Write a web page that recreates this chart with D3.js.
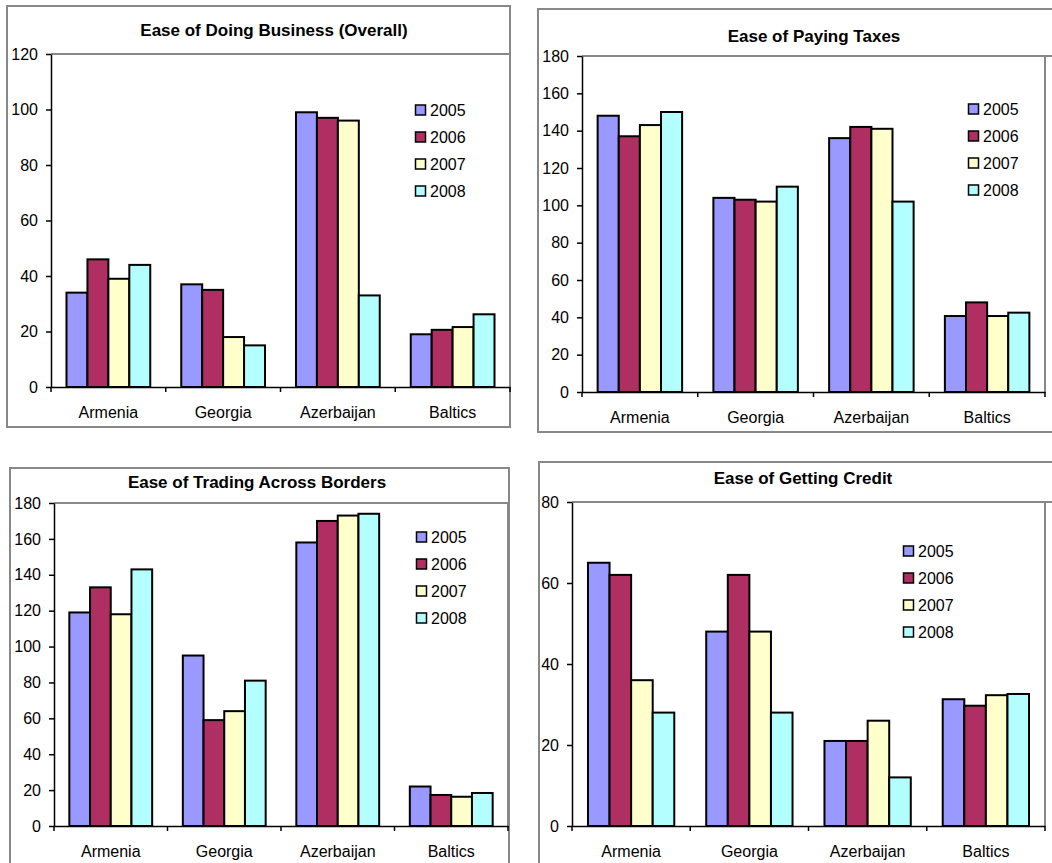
<!DOCTYPE html>
<html>
<head>
<meta charset="utf-8">
<script src="https://cdn.jsdelivr.net/npm/d3@7"></script>
<style>
  html, body { margin: 0; padding: 0; background: #fff; }
  svg { display: block; }
  text { font-family: Arial, "Liberation Sans", sans-serif; fill: #000; }
</style>
</head>
<body>
<svg id="chart" width="1052" height="863"></svg>
<script>
// ---- Data ----
const categories = ["Armenia", "Georgia", "Azerbaijan", "Baltics"];
const years = ["2005", "2006", "2007", "2008"];
const yearColors = ["#9999FF", "#AF2F63", "#FFFFCC", "#B3FFFF"];

const titles = [
  "Ease of Doing Business (Overall)",
  "Ease of Paying Taxes",
  "Ease of Trading Across Borders",
  "Ease of Getting Credit"
];

// values[category][year]
const doingBusiness = [
  [34, 46, 39, 44],
  [37, 35, 18, 15],
  [99, 97, 96, 33],
  [19, 20.6, 21.6, 26.2]
];
const payingTaxes = [
  [148, 137, 143, 150],
  [104, 103, 102, 110],
  [136, 142, 141, 102],
  [40.7, 48, 40.7, 42.5]
];
const tradingBorders = [
  [119, 133, 118, 143],
  [95, 59, 64, 81],
  [158, 170, 173, 174],
  [22, 17.3, 16.3, 18.4]
];
const gettingCredit = [
  [65, 62, 36, 28],
  [48, 62, 48, 28],
  [21, 21, 26, 12],
  [31.3, 29.7, 32.3, 32.6]
];

const yMaxes = [120, 180, 180, 80];
const yTickValues = [
  [0, 20, 40, 60, 80, 100, 120],
  [0, 20, 40, 60, 80, 100, 120, 140, 160, 180],
  [0, 20, 40, 60, 80, 100, 120, 140, 160, 180],
  [0, 20, 40, 60, 80]
];
const panelData = [doingBusiness, payingTaxes, tradingBorders, gettingCredit];

// ---- Layout (positions only) ----
const layouts = [
  { box: [7, 6, 510, 427],   plot: [51, 54, 510, 387],  plotLineRight: 510,  title: [274, 30],  legend: [415, 110] },
  { box: [538, 9, 1070, 432], plot: [582, 56, 1045, 392], plotLineRight: 1052, title: [814, 36],  legend: [968, 109] },
  { box: [10, 468, 509, 880], plot: [54, 503, 508, 826], plotLineRight: 508,  title: [257, 482], legend: [416, 537] },
  { box: [539, 462, 1070, 880], plot: [572, 502, 1045, 826], plotLineRight: 1052, title: [803, 478], legend: [903, 551] }
];

const svg = d3.select("#chart");

layouts.forEach((L, i) => {
  const g = svg.append("g");
  const [bx0, by0, bx1, by1] = L.box;
  const [px0, py0, px1, py1] = L.plot;
  const data = panelData[i];

  // panel border
  g.append("rect")
    .attr("x", bx0).attr("y", by0)
    .attr("width", bx1 - bx0).attr("height", by1 - by0)
    .attr("fill", "#fff").attr("stroke", "#888").attr("stroke-width", 2);

  // plot area border (top & right gray)
  g.append("line")
    .attr("x1", px0).attr("x2", L.plotLineRight)
    .attr("y1", py0).attr("y2", py0)
    .attr("stroke", "#888").attr("stroke-width", 2);
  g.append("line")
    .attr("x1", px1).attr("x2", px1)
    .attr("y1", py0).attr("y2", py1)
    .attr("stroke", "#888").attr("stroke-width", 2);

  // title
  g.append("text")
    .attr("x", L.title[0]).attr("y", L.title[1])
    .attr("text-anchor", "middle").attr("dy", "0.35em")
    .style("font-size", "17px").style("font-weight", "bold")
    .text(titles[i]);

  const x0 = d3.scaleBand().domain(categories).range([px0, px1]).paddingInner(0).paddingOuter(0);
  const x1 = d3.scaleBand().domain(years).range([0, x0.bandwidth()]).paddingInner(0).paddingOuter(0.74);
  const y = d3.scaleLinear().domain([0, yMaxes[i]]).range([py1, py0]);

  // bars
  const groups = g.selectAll(".grp").data(categories).enter().append("g")
    .attr("transform", d => `translate(${x0(d)},0)`);
  groups.selectAll("rect")
    .data((c, ci) => years.map((yr, yi) => ({ yr, yi, v: data[ci][yi] })))
    .enter().append("rect")
    .attr("x", d => x1(d.yr))
    .attr("y", d => y(d.v))
    .attr("width", x1.bandwidth())
    .attr("height", d => y(0) - y(d.v))
    .attr("fill", d => yearColors[d.yi])
    .attr("stroke", "#000").attr("stroke-width", 2);

  // y axis
  const yAxis = d3.axisLeft(y).tickValues(yTickValues[i]).tickSize(5).tickPadding(8).tickSizeOuter(0);
  const ya = g.append("g").attr("transform", `translate(${px0},0)`).call(yAxis);
  ya.selectAll("text").style("font-size", "16px").attr("font-family", null);
  ya.select(".domain").attr("stroke", "#000").attr("stroke-width", 1.5);
  ya.selectAll(".tick line").attr("stroke", "#000").attr("stroke-width", 1.5);

  // x axis (labels)
  const xAxis = d3.axisBottom(x0).tickSize(0).tickPadding(20).tickSizeOuter(0);
  const xa = g.append("g").attr("transform", `translate(0,${py1})`).call(xAxis);
  xa.selectAll("text").style("font-size", "16px").attr("font-family", null);
  xa.select(".domain").attr("stroke", "#000").attr("stroke-width", 1.5);

  // x axis boundary tick marks
  const edges = categories.map(c => x0(c)).concat([x0.range()[1]]);
  g.selectAll(".xedge").data(edges).enter().append("line")
    .attr("x1", d => d).attr("x2", d => d)
    .attr("y1", py1).attr("y2", py1 + 5)
    .attr("stroke", "#000").attr("stroke-width", 1.5);

  // legend
  const lg = g.append("g").attr("transform", `translate(${L.legend[0]},${L.legend[1]})`);
  years.forEach((yr, yi) => {
    lg.append("rect")
      .attr("x", 0.5).attr("y", yi * 27 - 5)
      .attr("width", 10).attr("height", 10)
      .attr("fill", yearColors[yi]).attr("stroke", "#000").attr("stroke-width", 1.5);
    lg.append("text")
      .attr("x", 15).attr("y", yi * 27).attr("dy", "0.35em")
      .style("font-size", "16px")
      .text(yr);
  });
});
</script>
</body>
</html>
